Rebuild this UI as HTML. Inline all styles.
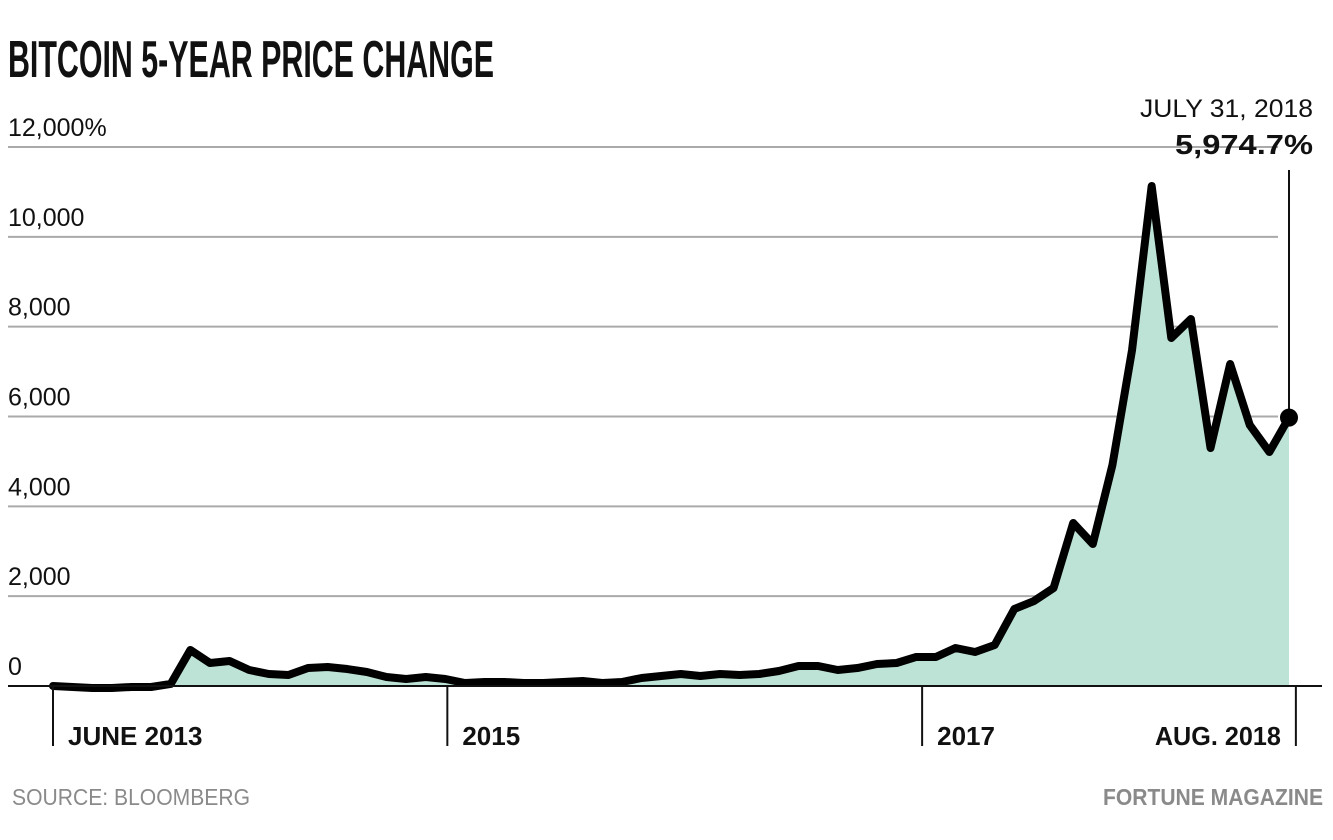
<!DOCTYPE html>
<html><head><meta charset="utf-8">
<style>
html,body{margin:0;padding:0;background:#fff;}
svg{display:block;font-family:"Liberation Sans Narrow","Liberation Sans",sans-serif;}
</style></head>
<body>
<svg id="chart" width="1333" height="840" viewBox="0 0 1333 840">
<text x="8" y="77" font-size="52" font-weight="bold" textLength="486" lengthAdjust="spacingAndGlyphs" fill="#111">BITCOIN 5-YEAR PRICE CHANGE</text>
<g id="grid"></g>
<g id="area"></g>
<g id="axis"></g>
<text x="1140" y="117" font-size="25" textLength="173" lengthAdjust="spacingAndGlyphs" fill="#111">JULY 31, 2018</text>
<text x="1175" y="154" font-size="28" font-weight="bold" textLength="138" lengthAdjust="spacingAndGlyphs" fill="#111">5,974.7%</text>
<text x="12" y="805" font-size="23" textLength="238" lengthAdjust="spacingAndGlyphs" fill="#8a8a8a">SOURCE: BLOOMBERG</text>
<text x="1103" y="805" font-size="23" font-weight="bold" textLength="220" lengthAdjust="spacingAndGlyphs" fill="#8a8a8a">FORTUNE MAGAZINE</text>
</svg>
<script>
const values = [0,-22,-45,-45,-22,-22,45,801,512,557,356,267,245,401,423,378,312,200,156,200,156,67,89,89,67,67,89,111,67,89,178,223,267,223,267,245,267,334,445,445,356,400,490,512,646,646,846,757,913,1714,1892,2182,3629,3161,4920,7480,11132,7748,8171,5299,7169,5811,5210,5975];
const yTicks = [0,2000,4000,6000,8000,10000,12000];
const yTickLabels = ["0","2,000","4,000","6,000","8,000","10,000","12,000%"];
const xTickIdx = [0,20.1,44.3,63.35];
const xTickLabels = ["JUNE 2013","2015","2017","AUG. 2018"];

const NS="http://www.w3.org/2000/svg";
const x0=53,x1=1289,y0=686,y12=147;
const X=i=>x0+(x1-x0)*i/(values.length-1);
const Y=v=>y0-(y0-y12)*v/12000;
function mk(tag,attrs,parent){const e=document.createElementNS(NS,tag);for(const k in attrs)e.setAttribute(k,attrs[k]);parent.appendChild(e);return e;}
const grid=document.getElementById('grid'),area=document.getElementById('area'),axis=document.getElementById('axis');

yTicks.forEach((t,i)=>{
  if(t!==0){
    const l=mk('line',{x1:8,x2:1278,y1:Y(t),y2:Y(t),stroke:'#aaa','stroke-width':2},grid);
    
    
  }
  const tx=mk('text',{x:8,y:Y(t)-11,'font-size':25,fill:'#111'},grid);
  tx.textContent=yTickLabels[i];
  
  
});

let d='M'+X(0)+','+Y(0);
values.forEach((v,i)=>{d+=' L'+X(i)+','+Y(v);});
const fillD=d+' L'+X(values.length-1)+','+y0+' L'+X(0)+','+y0+' Z';
const f=mk('path',{d:fillD,fill:'#bde3d6'},area);



const al=mk('line',{x1:8,x2:1322,y1:y0,y2:y0,stroke:'#111','stroke-width':2},axis);



xTickIdx.forEach((idx,i)=>{
  const last=i===xTickIdx.length-1;
  const tx0=X(idx);
  const t=mk('line',{x1:tx0,x2:tx0,y1:y0,y2:746,stroke:'#111','stroke-width':2},axis);
  
  
  const attrs={x:last?tx0-141:tx0+15,y:745,'font-size':26,'font-weight':'bold',fill:'#111'};
  if(last){attrs.textLength=126;attrs.lengthAdjust='spacingAndGlyphs';}
  const lb=mk('text',attrs,axis);
  lb.textContent=xTickLabels[i];
  
  
});

const ln=mk('path',{d:d,fill:'none',stroke:'#000','stroke-width':8,'stroke-linejoin':'round','stroke-linecap':'round'},area);



const lastI=values.length-1;
const cl=mk('line',{x1:X(lastI),x2:X(lastI),y1:170,y2:Y(values[lastI]),stroke:'#111','stroke-width':2},area);


const dot=mk('circle',{cx:X(lastI),cy:Y(values[lastI]),r:9,fill:'#000'},area);


</script>
</body></html>
